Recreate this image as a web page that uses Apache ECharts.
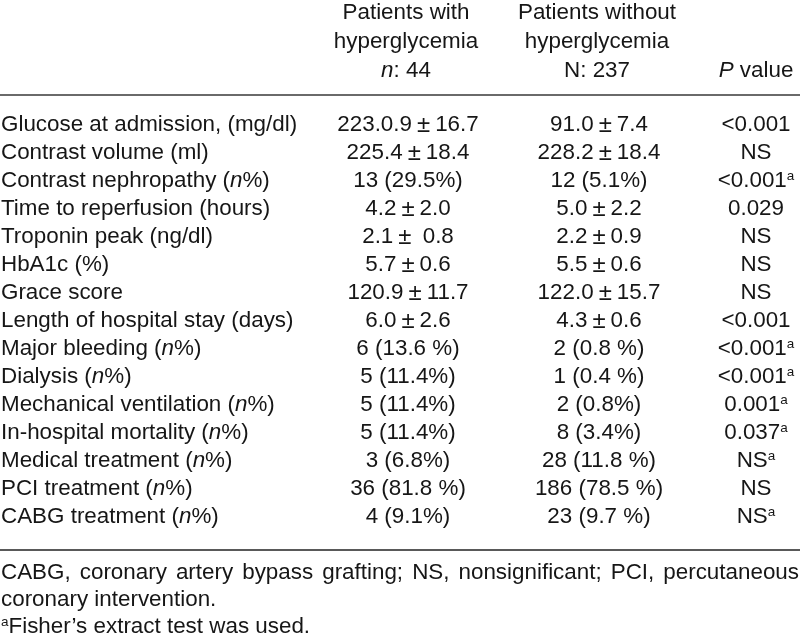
<!DOCTYPE html>
<html>
<head>
<meta charset="utf-8">
<script src="https://cdn.jsdelivr.net/npm/echarts@6/dist/echarts.min.js"></script>
<style>
html,body{margin:0;padding:0;background:#fff;}
#chart{width:800px;height:641px;}
</style>
</head>
<body>
<div id="chart"></div>
<script>
// ---- data ----
const rowLabels = [
  'Glucose at admission, (mg/dl)',
  'Contrast volume (ml)',
  'Contrast nephropathy (n%)',
  'Time to reperfusion (hours)',
  'Troponin peak (ng/dl)',
  'HbA1c (%)',
  'Grace score',
  'Length of hospital stay (days)',
  'Major bleeding (n%)',
  'Dialysis (n%)',
  'Mechanical ventilation (n%)',
  'In-hospital mortality (n%)',
  'Medical treatment (n%)',
  'PCI treatment (n%)',
  'CABG treatment (n%)'
];
const withHyper = [
  '223.0.9±16.7', '225.4±18.4', '13 (29.5%)', '4.2±2.0', '2.1± 0.8', '5.7±0.6',
  '120.9±11.7', '6.0±2.6', '6 (13.6 %)', '5 (11.4%)', '5 (11.4%)', '5 (11.4%)',
  '3 (6.8%)', '36 (81.8 %)', '4 (9.1%)'
];
const withoutHyper = [
  '91.0±7.4', '228.2±18.4', '12 (5.1%)', '5.0±2.2', '2.2±0.9', '5.5±0.6',
  '122.0±15.7', '4.3±0.6', '2 (0.8 %)', '1 (0.4 %)', '2 (0.8%)', '8 (3.4%)',
  '28 (11.8 %)', '186 (78.5 %)', '23 (9.7 %)'
];
const pValues = [
  '<0.001', 'NS', '<0.001', '0.029', 'NS', 'NS', 'NS', '<0.001',
  '<0.001', '<0.001', '0.001', '0.037', 'NS', 'NS', 'NS'
];
const fisherFlag = [0, 0, 1, 0, 0, 0, 0, 0, 1, 1, 1, 1, 1, 0, 1];
const headerWith = ['Patients with', 'hyperglycemia', '{it|n}: 44'];
const headerWithout = ['Patients without', 'hyperglycemia', 'N: 237'];
const headerP = ['{it|P} value'];
const footLine1 = 'CABG, coronary artery bypass grafting; NS, nonsignificant; PCI, percutaneous';
const footLine2 = 'coronary intervention.';
const footLine3 = '{sup|a}Fisher’s extract test was used.';

// ---- layout / style ----
const FONT = '"Liberation Sans", Arial, Helvetica, sans-serif';
const FS = 22.4;
const INK = '#161616';
const colX = [1, 408, 599, 756];
const headerCols = [406, 597, 756];
const headerY = [13, 42, 71];
const rich = {
  it: { fontStyle: 'italic', fontSize: FS, fontFamily: FONT, color: INK },
  sup: { fontSize: 13.5, fontFamily: FONT, verticalAlign: 'top', color: INK, lineHeight: 24 },
  pm: { fontSize: 24, fontFamily: FONT, color: INK, padding: [0, 5, 0, 5] }
};
function fmtLabel(s) { return s.replace('(n%)', '({it|n}%)'); }
function fmtVal(s) { return s.replace('±', '{pm|±}'); }

const chart = echarts.init(document.getElementById('chart'), null, { renderer: 'canvas' });

function txt(x, y, text, align) {
  return {
    type: 'text',
    x: x, y: y,
    style: {
      text: text, fill: INK, fontSize: FS, fontFamily: FONT,
      align: align || 'center', verticalAlign: 'middle', lineHeight: 24, rich: rich
    }
  };
}

// header texts
const graphics = [];
headerWith.forEach((t, k) => graphics.push(txt(headerCols[0], headerY[k], t)));
headerWithout.forEach((t, k) => graphics.push(txt(headerCols[1], headerY[k], t)));
headerP.forEach((t) => graphics.push(txt(headerCols[2], headerY[2], t)));

// rules
graphics.push({ type: 'line', shape: { x1: 0, y1: 95, x2: 800, y2: 95 }, style: { stroke: '#6a6a6a', lineWidth: 2 } });
graphics.push({ type: 'line', shape: { x1: 0, y1: 550, x2: 800, y2: 550 }, style: { stroke: '#222', lineWidth: 1.6 } });

// justified first footnote line
(function () {
  const cv = document.createElement('canvas').getContext('2d');
  cv.font = FS + 'px ' + FONT;
  const words = footLine1.split(' ');
  const widths = words.map(w => cv.measureText(w).width);
  const total = widths.reduce((a, b) => a + b, 0);
  const right = 799;
  const gap = (right - 1 - total) / (words.length - 1);
  let x = 1;
  words.forEach((w, k) => {
    graphics.push(txt(x, 573, w, 'left'));
    x += widths[k] + gap;
  });
})();
graphics.push(txt(1, 600, footLine2, 'left'));
graphics.push(txt(1, 627, footLine3, 'left'));

const option = {
  backgroundColor: '#ffffff',
  animation: false,
  grid: { left: 0, right: 0, top: 111, bottom: 110 },
  xAxis: { type: 'value', min: 0, max: 800, show: false },
  yAxis: { type: 'category', data: rowLabels, inverse: true, show: false },
  graphic: graphics,
  series: [{
    type: 'custom',
    clip: false,
    data: rowLabels.map((_, i) => [i]),
    encode: { y: 0 },
    renderItem: function (params, api) {
      const i = api.value(0);
      const p0 = api.coord([colX[0], i]);
      const p1 = api.coord([colX[1], i]);
      const p2 = api.coord([colX[2], i]);
      const p3 = api.coord([colX[3], i]);
      const pText = pValues[i] + (fisherFlag[i] ? '{sup|a}' : '');
      return {
        type: 'group',
        children: [
          txt(p0[0], p0[1], fmtLabel(rowLabels[i]), 'left'),
          txt(p1[0], p1[1], fmtVal(withHyper[i])),
          txt(p2[0], p2[1], fmtVal(withoutHyper[i])),
          txt(p3[0], p3[1], pText)
        ]
      };
    }
  }]
};
chart.setOption(option);
</script>
</body>
</html>
